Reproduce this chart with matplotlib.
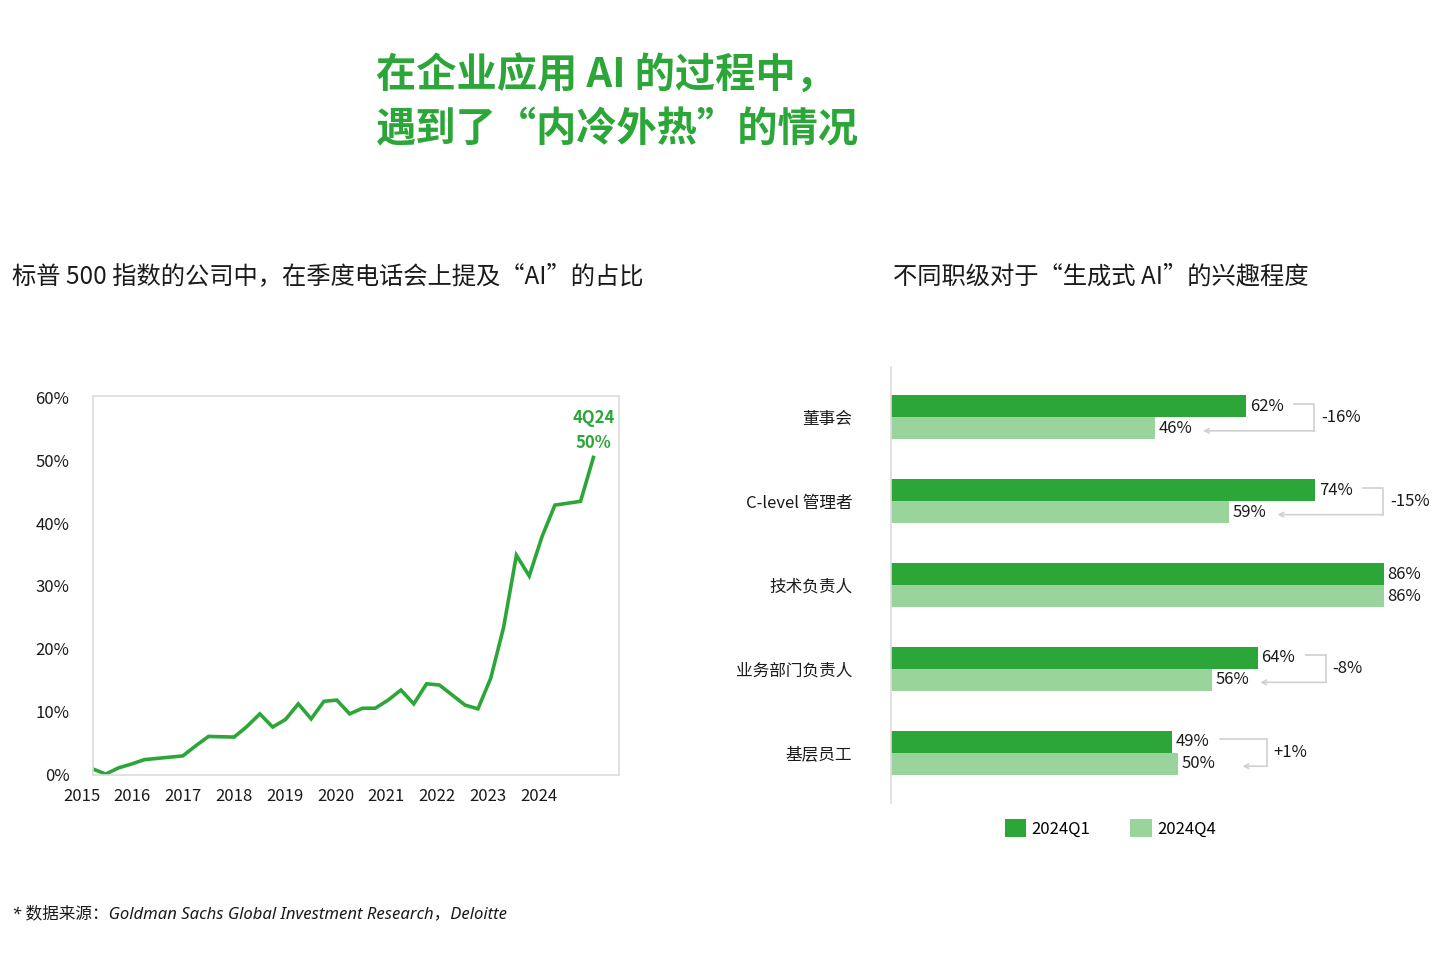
import numpy as np
import matplotlib
matplotlib.use("Agg")
import matplotlib.pyplot as plt
from matplotlib.patches import Patch

plt.rcParams['font.family'] = ['Noto Sans CJK SC', 'DejaVu Sans']

GREEN = '#2ca638'
LIGHT = '#98d49b'
GRAY = '#d0d0d0'
TXT = '#1a1a1a'

# share of S&P 500 companies mentioning "AI" on earnings calls, 1Q15 .. 4Q24
years = ['2015', '2016', '2017', '2018', '2019', '2020', '2021', '2022', '2023', '2024']
ai_share = [0.8, 0.0, 1.0, 1.6, 2.3, 2.5, 2.7, 2.9, 4.5, 6.0,
            5.95, 5.9, 7.6, 9.6, 7.5, 8.7, 11.2, 8.8, 11.6, 11.8,
            9.6, 10.5, 10.5, 11.8, 13.4, 11.2, 14.4, 14.2, 12.6, 11.0,
            10.4, 15.3, 23.4, 34.9, 31.6, 37.9, 42.9, 43.2, 43.5, 50.5]

# interest in generative AI by level
levels = ['董事会', 'C-level 管理者', '技术负责人', '业务部门负责人', '基层员工']
q1 = [62, 74, 86, 64, 49]
q4 = [46, 59, 86, 56, 50]
diff_labels = ['-16%', '-15%', '', '-8%', '+1%']

fig = plt.figure(figsize=(14.4, 9.6), dpi=100)

fig.text(0.261, 0.921, '在企业应用 AI 的过程中，', color=GREEN, fontsize=29,
         fontweight='bold', va='center', ha='left')
fig.text(0.261, 0.865, '遇到了\u201c内冷外热\u201d的情况', color=GREEN, fontsize=29,
         fontweight='bold', va='center', ha='left')

fig.text(0.008, 0.712, '标普 500 指数的公司中，在季度电话会上提及\u201cAI\u201d的占比',
         fontsize=17.5, color=TXT, va='center', ha='left')
fig.text(0.620, 0.712, '不同职级对于\u201c生成式 AI\u201d的兴趣程度',
         fontsize=17.5, color=TXT, va='center', ha='left')

fig.text(0.008, 0.048, '* 数据来源：Goldman Sachs Global Investment Research，Deloitte',
         fontsize=12, color=TXT, style='italic', va='center', ha='left',
         family=['Noto Sans', 'Noto Sans CJK SC', 'DejaVu Sans'])

# ---- line chart
ax = fig.add_axes([0.0646, 0.1927, 0.3653, 0.3948])
x = np.arange(len(ai_share))
ax.plot(x, ai_share, color=GREEN, lw=2.6, solid_joinstyle='miter')
ax.set_xlim(0, 41)
ax.set_ylim(-0.15, 60.3)
ax.set_yticks([0, 10, 20, 30, 40, 50, 60])
ax.set_yticklabels(['0%', '10%', '20%', '30%', '40%', '50%', '60%'])
ax.tick_params(axis='y', length=0, pad=17, labelsize=12, labelcolor=TXT)
ax.set_xticks([])
for s in ax.spines.values():
    s.set_color('#dcdcdc')
    s.set_linewidth(1.2)
for k, yr in enumerate(years):
    ax.text(4 * k - 0.9 - 0.04 * k, -0.035, yr, transform=ax.get_xaxis_transform(),
            ha='center', va='top', fontsize=12, color=TXT)
ax.text(x[-1], ai_share[-1] + 6.3, '4Q24', color=GREEN, fontsize=12,
        fontweight='bold', ha='center', va='center')
ax.text(x[-1], ai_share[-1] + 2.3, '%d%%' % round(ai_share[-1] - 0.5), color=GREEN,
        fontsize=12, fontweight='bold', ha='center', va='center')

# ---- bar chart
bx = fig.add_axes([0.6188, 0.1635, 0.3812, 0.4542])
pos = np.arange(len(levels))
h = 0.262
bx.barh(pos - h / 2, q1, height=h, color=GREEN)
bx.barh(pos + h / 2, q4, height=h, color=LIGHT)
bx.set_xlim(0, 95.76)
bx.set_ylim(4.6, -0.6)
bx.set_xticks([])
bx.set_yticks(pos)
bx.set_yticklabels(levels)
bx.tick_params(axis='y', length=0, pad=28, labelsize=12, labelcolor=TXT)
for name in ['top', 'right', 'bottom']:
    bx.spines[name].set_visible(False)
bx.spines['left'].set_color('#dcdcdc')
bx.spines['left'].set_linewidth(1.2)

for i in range(len(levels)):
    bx.text(q1[i] + 0.6, pos[i] - h / 2, '%d%%' % q1[i], va='center', ha='left',
            fontsize=12, color=TXT)
    bx.text(q4[i] + 0.6, pos[i] + h / 2, '%d%%' % q4[i], va='center', ha='left',
            fontsize=12, color=TXT)
    if not diff_labels[i]:
        continue
    x0 = q1[i] + 8.3
    x1 = q4[i] + 8.4 if q4[i] < q1[i] else q4[i] + 11.3
    xv = max(q1[i], q4[i]) + (11.8 if q4[i] < q1[i] else 15.5)
    y0 = pos[i] - h / 2 - 0.03
    y1 = pos[i] + h / 2 + 0.03
    bx.plot([x0, xv, xv], [y0, y0, y1], color=GRAY, lw=1.2)
    bx.annotate('', xy=(x1, y1), xytext=(xv + 0.1, y1),
                arrowprops=dict(arrowstyle='->', color=GRAY, lw=1.2,
                                shrinkA=0, shrinkB=0, mutation_scale=8))
    bx.text(xv + 1.2, pos[i], diff_labels[i], va='center', ha='left',
            fontsize=12, color=TXT)

handles = [Patch(facecolor=GREEN, label='2024Q1'), Patch(facecolor=LIGHT, label='2024Q4')]
fig.legend(handles=handles, loc='center', bbox_to_anchor=(0.771, 0.1375), ncol=2,
           frameon=False, fontsize=12, handlelength=1.3, handleheight=1.3,
           handletextpad=0.3, columnspacing=2.4)

fig.savefig('out.png', dpi=100, facecolor='white')
